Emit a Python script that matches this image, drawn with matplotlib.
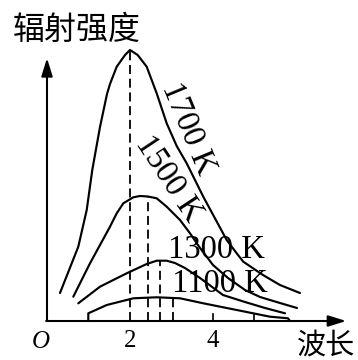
import numpy as np
import matplotlib
matplotlib.use("Agg")
import matplotlib.pyplot as plt

plt.rcParams['font.family'] = ['Noto Sans CJK SC', 'DejaVu Sans']

# Blackbody radiation curves: wavelength (arbitrary units) vs. radiant intensity
temps = ["1700 K", "1500 K", "1300 K", "1100 K"]

wl_1700 = [0.313, 0.754, 0.957, 1.091, 1.277, 1.446, 1.518, 1.680, 1.880, 2.0,
           2.185, 2.402, 2.643, 2.884, 3.125, 3.366, 3.766, 4.330, 4.571, 4.730,
           5.205, 5.614, 6.096]
int_1700 = [1.033, 2.742, 4.096, 5.572, 7.159, 8.376, 8.745, 9.384, 9.815, 10.0,
            9.815, 9.384, 8.402, 7.295, 6.458, 5.819, 4.587, 2.989, 2.498, 2.188,
            1.697, 1.328, 1.033]

wl_1500 = [0.634, 1.036, 1.277, 1.518, 1.680, 1.839, 2.080, 2.241, 2.434, 2.643,
           2.884, 3.205, 3.446, 3.687, 4.0, 4.361, 4.771, 5.133, 5.614, 6.024]
int_1500 = [0.897, 2.129, 2.804, 3.480, 3.974, 4.343, 4.565, 4.613, 4.594, 4.528,
            4.218, 3.727, 3.236, 2.694, 2.066, 1.587, 1.144, 0.886, 0.664, 0.480]

wl_1300 = [0.754, 1.277, 1.598, 1.920, 2.402, 2.643, 2.884, 3.084, 3.325, 3.687,
           4.241, 4.771, 5.253, 5.735]
int_1300 = [0.653, 1.266, 1.513, 1.760, 2.103, 2.225, 2.225, 2.140, 1.956, 1.587,
            0.959, 0.701, 0.480, 0.284]

wl_1100 = [0.995, 0.995, 1.439, 2.080, 2.643, 3.205, 3.766, 4.571, 5.373, 5.807, 5.855]
int_1100 = [0.0, 0.284, 0.590, 0.838, 0.875, 0.838, 0.653, 0.406, 0.159, 0.100, 0.0]

# wavelength of maximum intensity for each temperature
peak_wl = [2.0, 2.427, 2.723, 3.045]

x_ticks = [2, 4]
x_minor_ticks = [4, 5]

curves = [(wl_1700, int_1700), (wl_1500, int_1500),
          (wl_1300, int_1300), (wl_1100, int_1100)]

fig = plt.figure(figsize=(3.58, 3.60), dpi=100)
ax = fig.add_axes([0, 0, 1, 1])
ax.set_xlim(-1.1325, 7.494)
ax.set_ylim(-1.439, 11.845)
ax.axis('off')

lw = 1.55
for wl, inten in curves:
    ax.plot(wl, inten, color='black', lw=lw, solid_capstyle='round',
            solid_joinstyle='round', zorder=3)

# dashed drop lines from each maximum to the wavelength axis
for (wl, inten), pw in zip(curves, peak_wl):
    xs, ys = (wl[1:], inten[1:]) if wl[0] == wl[1] else (wl, inten)
    top = np.interp(pw, xs, ys)
    ax.plot([pw, pw], [0, top], color='black', lw=1.3,
            linestyle=(0, (5, 2.6)), zorder=2)

# axes with arrows
arrow = dict(arrowstyle='-|>,head_length=0.9,head_width=0.28', lw=1.5,
             color='black', shrinkA=0, shrinkB=0, mutation_scale=12)
ax.annotate('', xy=(0, 9.70), xytext=(0, 0), arrowprops=arrow, zorder=4)
ax.annotate('', xy=(7.21, 0), xytext=(-0.02, 0), arrowprops=arrow, zorder=4)

for t in x_minor_ticks:
    ax.plot([t, t], [0, 0.24], color='black', lw=1.2, zorder=4)

serif = ['Liberation Serif', 'DejaVu Serif']
for t in x_ticks:
    ax.text(t, -0.74, str(t), ha='center', va='center', fontsize=18, family=serif)
ax.text(-0.15, -0.76, 'O', ha='center', va='center', fontsize=18,
        family=serif, style='italic')

ax.text(0.72, 10.74, '辐射强度', ha='center', va='center', fontsize=23)
ax.text(6.72, -0.90, '波长', ha='center', va='center', fontsize=21)

label_pos = [(3.405, 7.11, -67.5), (2.923, 5.23, -56.5),
             (4.072, 2.62, 0), (4.169, 1.37, 0)]
for name, (x, y, rot) in zip(temps, label_pos):
    ax.text(x, y, name, ha='center', va='center', rotation=rot,
            rotation_mode='anchor', fontsize=23.5, family=serif, zorder=1)

fig.savefig('out.png', dpi=100)
